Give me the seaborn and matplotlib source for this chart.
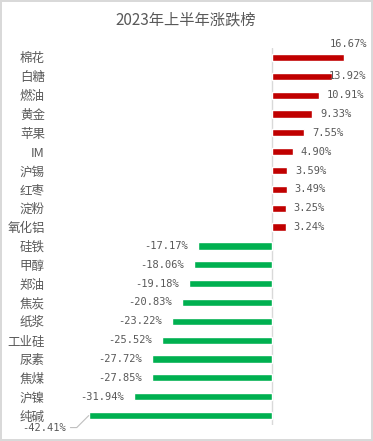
import matplotlib
matplotlib.use("Agg")
import matplotlib.pyplot as plt
import seaborn as sns
import pandas as pd

# data, top to bottom
names = ["棉花", "白糖", "燃油", "黄金", "苹果", "IM", "沪锡", "红枣", "淀粉", "氧化铝",
         "硅铁", "甲醇", "郑油", "焦炭", "纸浆", "工业硅", "尿素", "焦煤", "沪镍", "纯碱"]
changes = [16.67, 13.92, 10.91, 9.33, 7.55, 4.90, 3.59, 3.49, 3.25, 3.24,
           -17.17, -18.06, -19.18, -20.83, -23.22, -25.52, -27.72, -27.85, -31.94, -42.41]

df = pd.DataFrame({"name": names, "pct": changes})
df["sign"] = ["up" if v >= 0 else "down" for v in changes]

sns.set_theme(style="white")
plt.rcParams["font.family"] = ["Noto Sans CJK SC", "DejaVu Sans"]

gray = "#595959"
fig = plt.figure(figsize=(3.73, 4.41), dpi=100)
fig.patch.set_edgecolor("#d9d9d9")
fig.patch.set_linewidth(1.5)
ax = fig.add_axes([56 / 373, 1 - 425 / 441, (358 - 56) / 373, (425 - 48) / 441])

sns.barplot(data=df, x="pct", y="name", hue="sign", orient="h",
            palette={"up": "#C00000", "down": "#00B050"}, width=0.38,
            legend=False, ax=ax, saturation=1)

ax.set_xlim(-50, 20)
ax.set_ylim(len(names) - 0.5, -0.5)
ax.axvline(0, color="#d9d9d9", lw=1, zorder=0)
for s in ax.spines.values():
    s.set_visible(False)
ax.set_xticks([])
ax.set_xlabel("")
ax.set_ylabel("")
ax.tick_params(axis="y", length=0, pad=8, labelsize=9, labelcolor=gray)

mono = ["DejaVu Sans Mono"]
lab = dict(fontsize=7.5, color=gray, family=mono, va="center", annotation_clip=False)
for i, v in enumerate(changes):
    txt = f"{v:.2f}%"
    if i == 0:
        # no room at the end of the longest bar: put it above
        ax.annotate(txt, (v, i), xytext=(-14, 13), textcoords="offset pixels",
                    ha="left", **lab)
    elif i == 1:
        ax.annotate(txt, (v, i), xytext=(-3, 0), textcoords="offset pixels",
                    ha="left", **lab)
    elif i == len(changes) - 1:
        ax.annotate(txt, (v, i), xytext=(-23, -12), textcoords="offset pixels",
                    ha="right", **lab,
                    arrowprops=dict(arrowstyle="-", color="#bfbfbf", lw=0.8,
                                    shrinkA=1, shrinkB=0,
                                    connectionstyle="angle,angleA=0,angleB=45,rad=0"))
    elif v >= 0:
        ax.annotate(txt, (v, i), xytext=(8, 0), textcoords="offset pixels",
                    ha="left", **lab)
    else:
        ax.annotate(txt, (v, i), xytext=(-10, 0), textcoords="offset pixels",
                    ha="right", **lab)

fig.text(186 / 373, 1 - 20 / 441, "2023年上半年涨跌榜", ha="center", va="center",
         fontsize=11, color=gray)

fig.savefig("out.png", dpi=100)
